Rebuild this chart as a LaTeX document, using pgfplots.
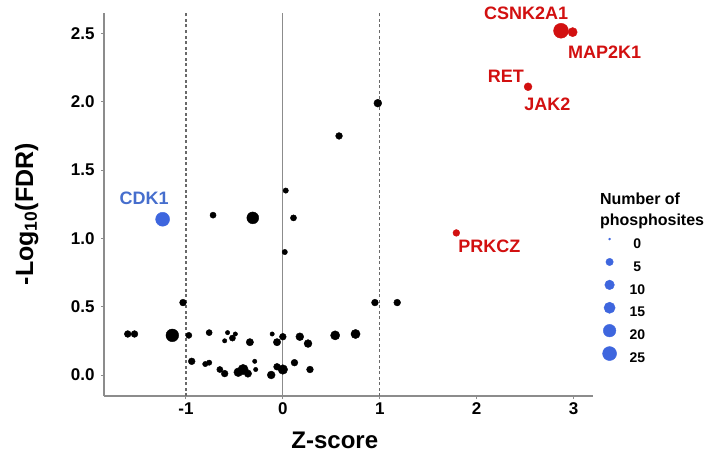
\documentclass[border=0pt]{standalone}
\usepackage{pgfplots}
\pgfplotsset{compat=1.18}
\usepackage{fontspec}
\setmainfont{Liberation Sans}
\definecolor{myred}{RGB}{210,16,16}
\definecolor{myblue}{RGB}{62,102,222}
\definecolor{txtblue}{RGB}{70,110,205}
\definecolor{axgray}{RGB}{140,140,140}
\definecolor{dashgray}{RGB}{105,105,105}
\pgfplotstableread{
x y n
-1.60 0.30 4
-1.53 0.30 4
-1.14 0.29 20
-0.97 0.29 3
-0.76 0.31 3
-0.57 0.31 1
-0.49 0.30 1
-0.60 0.25 1
-0.52 0.27 3
-0.34 0.24 5
-0.11 0.30 1
-0.06 0.24 5
0.00 0.28 4
0.175 0.28 6
0.26 0.23 6
0.54 0.29 9
0.75 0.30 9
-1.03 0.53 4
0.95 0.53 4
1.18 0.53 4
-0.94 0.10 4
-0.80 0.08 2
-0.76 0.09 2
-0.65 0.04 3
-0.60 0.01 4
-0.46 0.02 8
-0.41 0.04 12
-0.36 0.01 5
-0.29 0.10 1
-0.28 0.04 1
-0.12 0.00 6
-0.06 0.06 4
0.00 0.04 10
0.12 0.09 4
0.28 0.04 4
0.98 1.99 6
0.58 1.75 4
0.03 1.35 2
0.11 1.15 3
-0.72 1.17 3
-0.31 1.15 17
0.02 0.90 2
}\blackdata
\pgfplotstableread{
x y n
2.87 2.52 29
2.99 2.51 9
2.53 2.11 6
1.79 1.04 4
}\reddata
\pgfplotstableread{
x y n
-1.24 1.14 25
}\bluedata
\begin{document}
\begin{tikzpicture}
\useasboundingbox (-104pt,-68pt) rectangle (610pt,396pt);
\begin{axis}[
  scale only axis, width=489pt, height=383pt,
  xmin=-1.845, xmax=3.2, ymin=-0.154, ymax=2.65,
  axis lines=left, axis line style={draw=axgray, line width=1.4pt, -},
  tick style={draw=axgray, line width=0.9pt}, tick align=outside,
  major tick length=3pt,
  xtick={-1,0,1,2,3}, ytick={0,0.5,1,1.5,2,2.5},
  yticklabel style={xshift=-3pt, /pgf/number format/.cd, fixed, fixed zerofill, precision=1},
  /pgf/number format/assume math mode=true,
  ticklabel style={font=\bfseries\fontsize{17}{17}\selectfont},
  clip=false,
  xlabel={Z-score}, ylabel={-Log\textsubscript{10}(FDR)},
  xlabel style={font=\bfseries\fontsize{24}{24}\selectfont, at={(axis description cs:0.472,-0.115)}, anchor=center},
  ylabel style={font=\bfseries\fontsize{25}{25}\selectfont, at={(axis description cs:-0.158,0.475)}, anchor=center},
  legend style={draw=none, fill=none, at={(axis description cs:1.011,0.445)}, anchor=north west,
    font=\bfseries\fontsize{14}{14}\selectfont, row sep=0pt, column sep=12pt,
    nodes={inner sep=0pt}},
  legend cell align=center,
  legend image code/.code={\path[draw=none, fill=none] (-8pt,-6.6pt) rectangle (8pt,16.3pt); \draw[#1] plot coordinates {(0pt,5pt)};},
]
\addplot[forget plot, axgray, line width=1.3pt] coordinates {(0,-0.154) (0,2.65)};
\addplot[forget plot, dashgray, line width=1.4pt, dash pattern=on 3pt off 2.5pt] coordinates {(-1,-0.154) (-1,2.65)};
\addplot[forget plot, dashgray, line width=1.4pt, dash pattern=on 3pt off 2.5pt] coordinates {(1,-0.154) (1,2.65)};
\addplot[forget plot, scatter, only marks, mark=*,
  scatter/use mapped color={draw=black, fill=black},
  visualization depends on={1+1.2*sqrt(\thisrow{n})\as\msize},
  scatter/@pre marker code/.append style={/tikz/mark size=\msize}] table[x=x,y=y] {\blackdata};
\addplot[forget plot, scatter, only marks, mark=*,
  scatter/use mapped color={draw=myred, fill=myred},
  visualization depends on={1+1.2*sqrt(\thisrow{n})\as\msize},
  scatter/@pre marker code/.append style={/tikz/mark size=\msize}] table[x=x,y=y] {\reddata};
\addplot[forget plot, scatter, only marks, mark=*,
  scatter/use mapped color={draw=myblue, fill=myblue},
  visualization depends on={1+1.2*sqrt(\thisrow{n})\as\msize},
  scatter/@pre marker code/.append style={/tikz/mark size=\msize}] table[x=x,y=y] {\bluedata};
\addlegendimage{only marks, mark=*, myblue, mark size=1pt}\addlegendentry{0}
\addlegendimage{only marks, mark=*, myblue, mark size=3.7pt}\addlegendentry{5}
\addlegendimage{only marks, mark=*, myblue, mark size=4.8pt}\addlegendentry{10}
\addlegendimage{only marks, mark=*, myblue, mark size=5.6pt}\addlegendentry{15}
\addlegendimage{only marks, mark=*, myblue, mark size=6.3pt}\addlegendentry{20}
\addlegendimage{only marks, mark=*, myblue, mark size=7pt}\addlegendentry{25}
\begin{scope}[font=\bfseries\fontsize{18}{18}\selectfont, text=myred]
\node at (axis cs:2.51,2.65) {CSNK2A1};
\node at (axis cs:3.32,2.365) {MAP2K1};
\node at (axis cs:2.30,2.19) {RET};
\node at (axis cs:2.73,1.98) {JAK2};
\node at (axis cs:2.13,0.94) {PRKCZ};
\end{scope}
\node[font=\bfseries\fontsize{18}{18}\selectfont, text=txtblue] at (axis cs:-1.43,1.29) {CDK1};
\node[font=\bfseries\fontsize{16}{21}\selectfont, align=left, anchor=north west, inner sep=0pt]
  at (axis description cs:1.014,0.531) {Number of\\phosphosites};
\end{axis}
\end{tikzpicture}
\end{document}
